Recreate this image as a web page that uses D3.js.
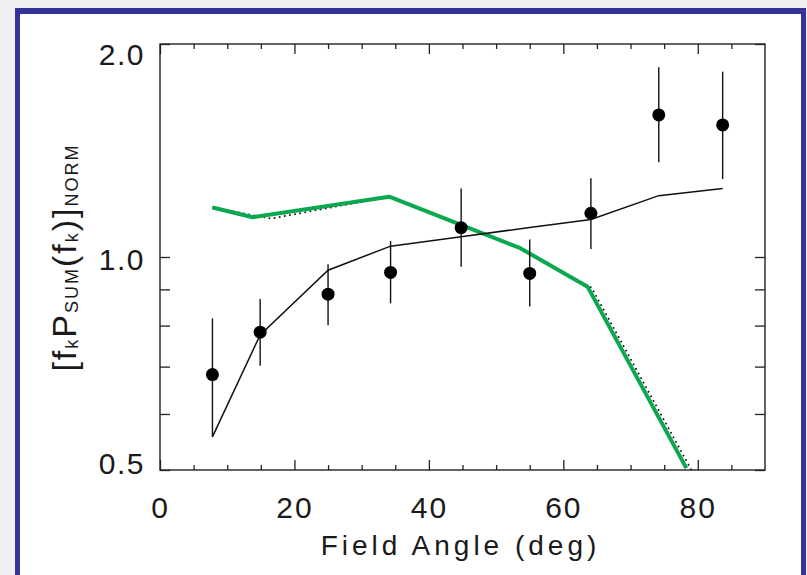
<!DOCTYPE html>
<html><head><meta charset="utf-8">
<script src="https://cdn.jsdelivr.net/npm/d3@7"></script>
<style>body{margin:0;background:#f0f0f0} svg{display:block}</style>
</head><body><svg id="c" width="807" height="575"></svg>
<script>
// ---- data ----
const angles   = [7.8, 14.9, 25.0, 34.3, 44.8, 55.0, 64.1, 74.2, 83.7];
const measured = [0.682, 0.783, 0.886, 0.951, 1.100, 0.948, 1.153, 1.588, 1.537];
const errUp    = [0.819, 0.872, 0.977, 1.053, 1.250, 1.059, 1.292, 1.854, 1.828];
const errLo    = [0.557, 0.702, 0.801, 0.860, 0.969, 0.851, 1.026, 1.361, 1.289];
const modelX   = [7.8, 14.9, 25.0, 34.3, 44.8, 55.0, 64.1, 74.2, 83.7];
const modelY   = [0.557, 0.776, 0.958, 1.036, 1.068, 1.101, 1.130, 1.221, 1.250];
const greenX   = [7.8, 13.8, 34.1, 53.6, 63.6, 78.3];
const greenY   = [1.175, 1.138, 1.217, 1.029, 0.908, 0.503];
const dottedX  = [7.8, 16.5, 34.1, 53.6, 64.2, 79.2];
const dottedY  = [1.175, 1.133, 1.217, 1.029, 0.905, 0.497];
const xTicks   = [0, 20, 40, 60, 80];
const xMinor   = [5, 10, 15, 25, 30, 35, 45, 50, 55, 65, 70, 75, 85];
const yTicks   = [0.5, 1.0, 2.0];
const yMinor   = [0.6, 0.7, 0.8, 0.9];
const xTitle   = "Field Angle (deg)";

const svg = d3.select("#c");
// page frame
svg.append("rect").attr("x",15).attr("y",8).attr("width",791).attr("height",600).attr("fill","#333399");
svg.append("rect").attr("x",20).attr("y",14).attr("width",781).attr("height",600).attr("fill","#ffffff");

const L=160, R=765, T=44, B=470;
const x = d3.scaleLinear().domain([0,90]).range([L,R]);
const y = d3.scaleLog().domain([0.5,2]).range([B,T]);
const font = "'Liberation Sans', Arial, sans-serif";

svg.append("clipPath").attr("id","clip").append("rect")
  .attr("x",L).attr("y",T).attr("width",R-L).attr("height",B-T);

function tickAxis(gen, tx, ty, vals, size){
  const g = svg.append("g").attr("transform",`translate(${tx},${ty})`)
    .call(gen.tickValues(vals).tickSizeInner(-size).tickSizeOuter(0).tickFormat(""));
  g.select(".domain").remove();
  g.selectAll("line").attr("stroke","#222").attr("stroke-width",1.3);
  return g;
}
tickAxis(d3.axisBottom(x),0,B,xTicks,10);
tickAxis(d3.axisBottom(x),0,B,xMinor,5);
tickAxis(d3.axisTop(x),0,T,xTicks,10);
tickAxis(d3.axisTop(x),0,T,xMinor,5);
tickAxis(d3.axisLeft(y),L,0,yTicks,10);
tickAxis(d3.axisLeft(y),L,0,yMinor,10);
tickAxis(d3.axisRight(y),R,0,yTicks,10);
tickAxis(d3.axisRight(y),R,0,yMinor,10);

// labels
const gx = svg.append("g").attr("transform",`translate(0,${B})`)
  .call(d3.axisBottom(x).tickValues(xTicks).tickSize(0).tickPadding(27).tickFormat(d3.format("d")));
gx.select(".domain").remove();
gx.selectAll("text").attr("font-family",font).attr("font-size",30).attr("fill","#1a1a1a").attr("letter-spacing","2px");

const gy = svg.append("g").attr("transform",`translate(${L},0)`)
  .call(d3.axisLeft(y).tickValues(yTicks).tickSize(0).tickPadding(15).tickFormat(d3.format(".1f")));
gy.select(".domain").remove();
const yShift = v => v===2 ? 10 : (v===0.5 ? -7 : 2);
gy.selectAll("text").attr("font-family",font).attr("font-size",30).attr("fill","#1a1a1a").attr("letter-spacing","1.5px")
  .attr("dy",null).attr("dominant-baseline","central").attr("y",d=>yShift(d));

// frame
svg.append("rect").attr("x",L).attr("y",T).attr("width",R-L).attr("height",B-T)
  .attr("fill","none").attr("stroke","#222").attr("stroke-width",1.4);

// x title
svg.append("text").attr("x",(L+R)/2-2).attr("y",555).attr("text-anchor","middle")
  .attr("font-family",font).attr("font-size",28).attr("fill","#1a1a1a").attr("letter-spacing","4px").text(xTitle);

// y title
const yt = svg.append("text").attr("transform","translate(76,257.5) rotate(-90)")
  .attr("text-anchor","middle").attr("font-family",font).attr("font-size",34).attr("fill","#1a1a1a").attr("letter-spacing","2px");
const parts = [["[",0],["f",0],["k",1],["P",0],["SUM",1],["(",0],["f",0],["k",1],[")",0],["]",0],["NORM",1]];
let prevSub = 0;
parts.forEach(([t,s])=>{
  const ts = yt.append("tspan").text(t);
  if (s) ts.attr("font-size",18);
  const dy = (s?2:0) - (prevSub?2:0);
  if (dy) ts.attr("dy",dy);
  prevSub = s;
});

const plot = svg.append("g").attr("clip-path","url(#clip)");
const line = d3.line().x(d=>x(d[0])).y(d=>y(d[1]));
// dotted model
plot.append("path").datum(dottedX.map((v,i)=>[v,dottedY[i]])).attr("d",line)
  .attr("fill","none").attr("stroke","#111").attr("stroke-width",1.7).attr("stroke-dasharray","1.7,3.5");
// green model
plot.append("path").datum(greenX.map((v,i)=>[v,greenY[i]])).attr("d",line)
  .attr("fill","none").attr("stroke","#0aa84f").attr("stroke-width",4).attr("stroke-linejoin","round");
// black model
plot.append("path").datum(modelX.map((v,i)=>[v,modelY[i]])).attr("d",line)
  .attr("fill","none").attr("stroke","#111").attr("stroke-width",1.5);
// error bars
plot.selectAll("line.err").data(angles).join("line").attr("class","err")
  .attr("x1",d=>x(d)).attr("x2",d=>x(d))
  .attr("y1",(d,i)=>y(errUp[i])).attr("y2",(d,i)=>y(errLo[i]))
  .attr("stroke","#111").attr("stroke-width",1.4);
plot.selectAll("circle").data(angles).join("circle")
  .attr("cx",d=>x(d)).attr("cy",(d,i)=>y(measured[i])).attr("r",6.5).attr("fill","#000");
</script></body></html>
